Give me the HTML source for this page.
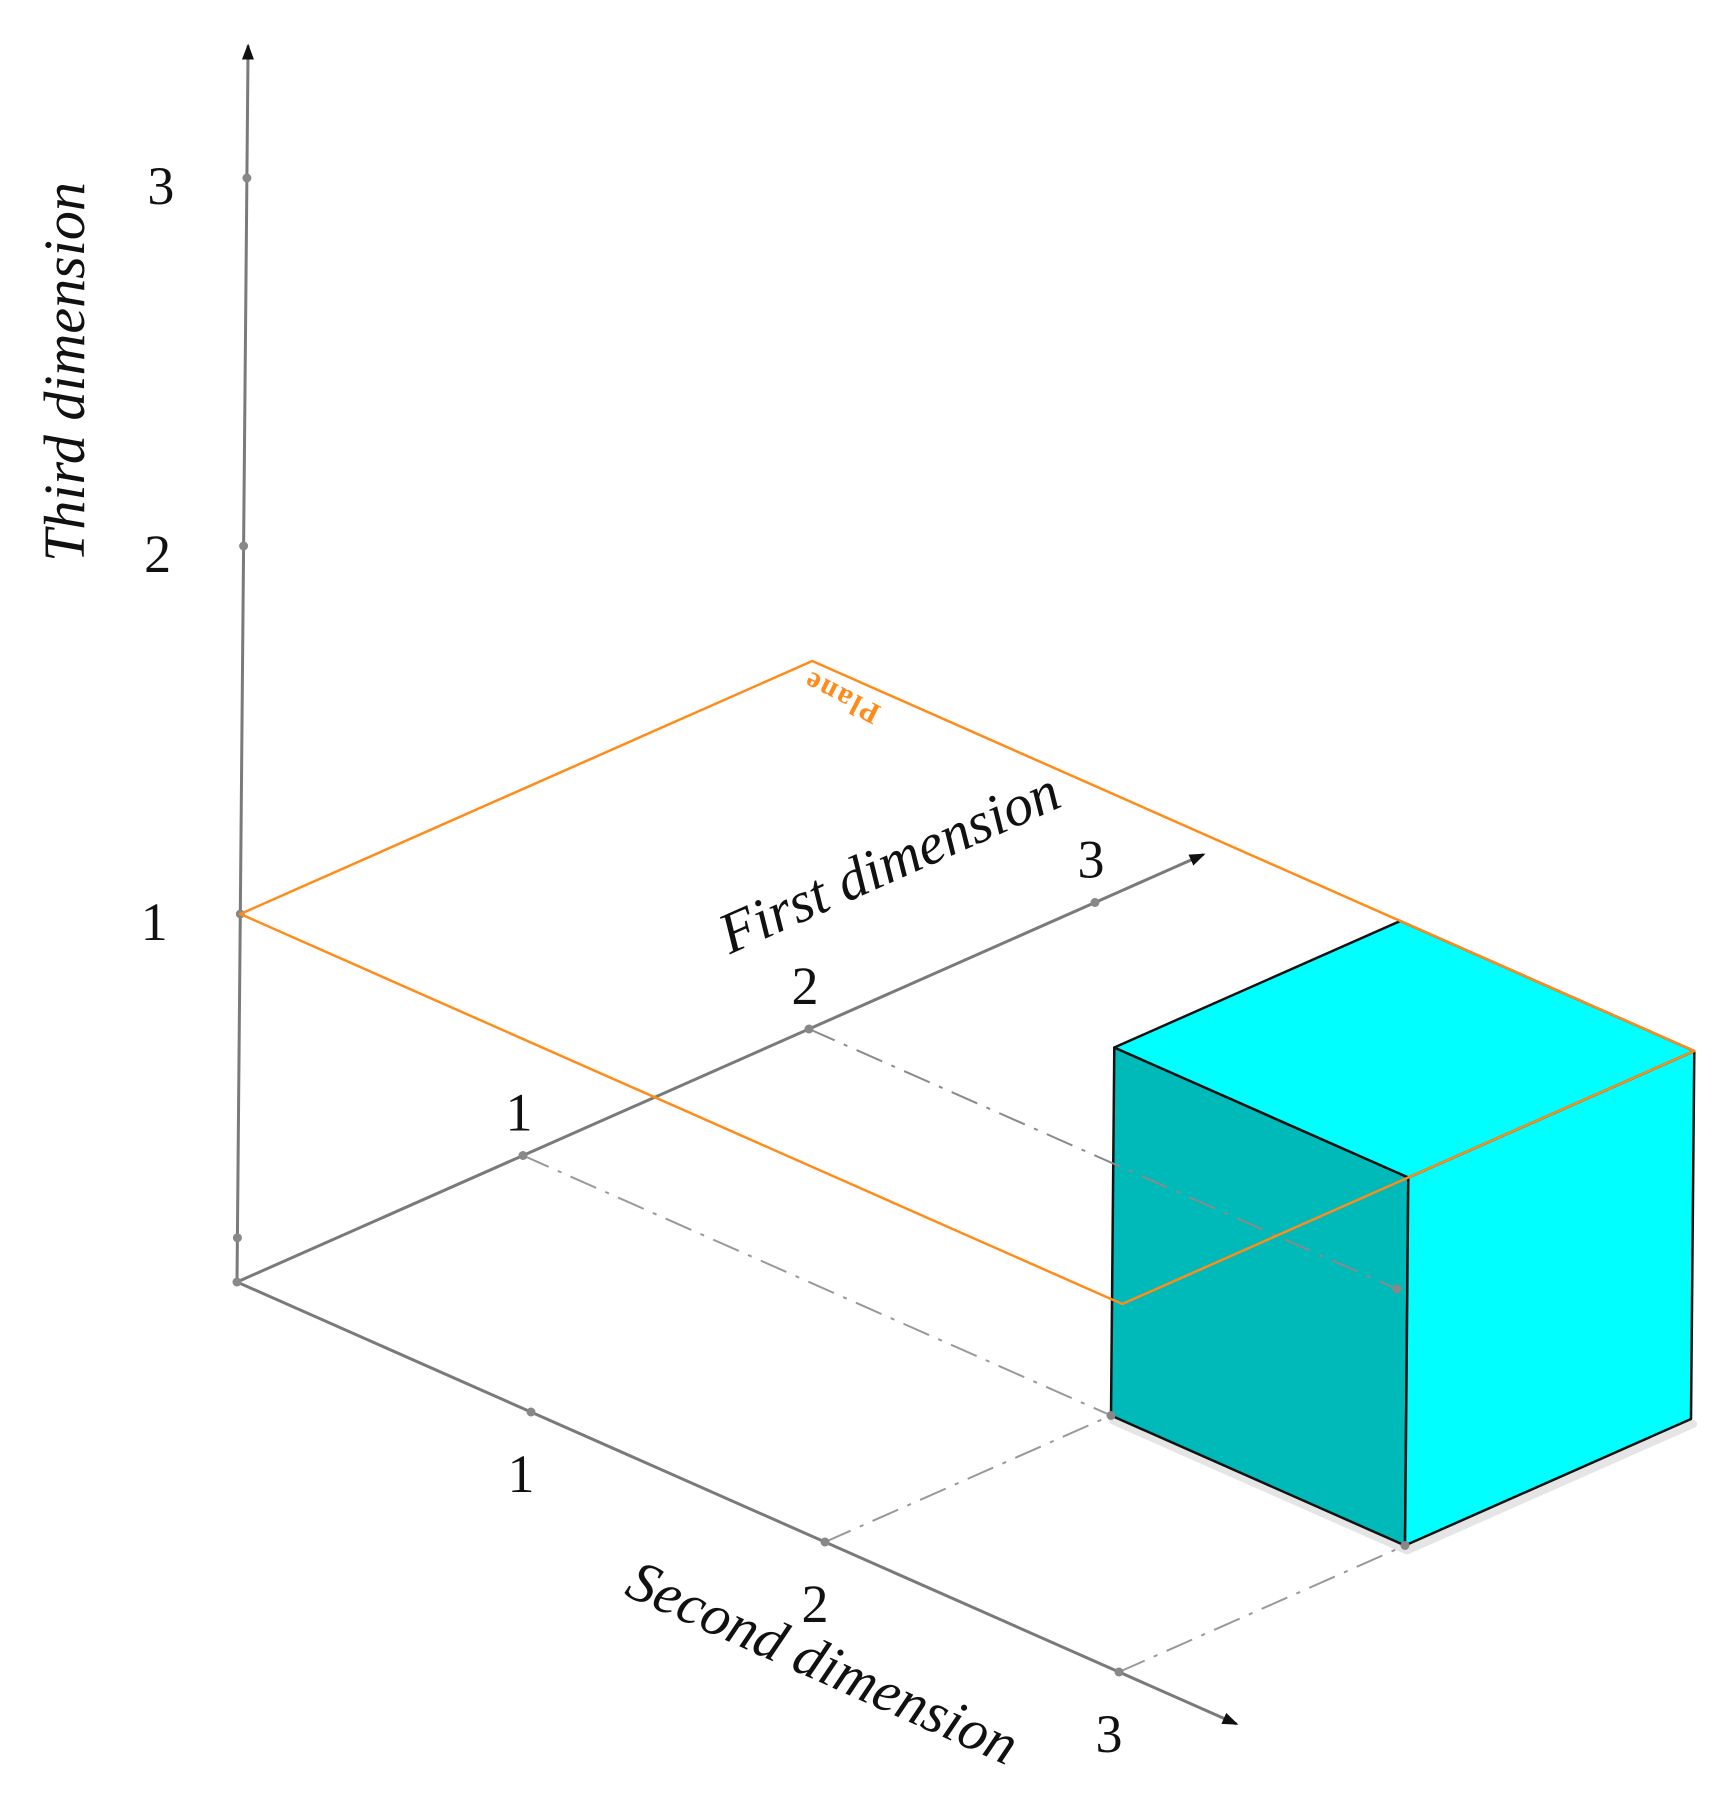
<!DOCTYPE html>
<html><head><meta charset="utf-8"><style>
html,body{margin:0;padding:0;background:#fff;}
svg{display:block;}
text{font-family:"Liberation Serif",serif;}
</style></head><body>
<svg id="chart" width="1735" height="1811" viewBox="0 0 1735 1811" xmlns="http://www.w3.org/2000/svg">
<defs>
<marker id="arr" markerWidth="16" markerHeight="12" refX="14" refY="6" orient="auto" markerUnits="userSpaceOnUse">
<path d="M0,0 L16,6 L0,12 z" fill="#111"/>
</marker>
</defs>
<g id="g"></g>
</svg>
<script>
// axis tick values
const ticks = [1, 2, 3];
const tickLabels = ["1", "2", "3"];
// plane level (third dimension) and extents
const planeLevel = [1];
const planeFirst = [0, 2];
const planeSecond = [0, 3];
// cube extents [min,max] in first, second, third dims
const cubeFirst = [1, 2];
const cubeSecond = [2, 3];
const cubeThird = [0, 1];

const O = {x:237, y:1282};
const E1 = {x:286, y:-126.5};
const E2 = {x:294, y:130};
const E3 = {x:3.3, y:-368};
function P(a,b,c){return {x:O.x+a*E1.x+b*E2.x+c*E3.x, y:O.y+a*E1.y+b*E2.y+c*E3.y};}
const NS="http://www.w3.org/2000/svg";
const g=document.getElementById('g');
function el(t,attrs){const e=document.createElementNS(NS,t);for(const k in attrs)e.setAttribute(k,attrs[k]);g.appendChild(e);return e;}
function line(p,q,st,name){const e=el('line',{x1:p.x,y1:p.y,x2:q.x,y2:q.y,style:st});


return e;}
function poly(pts,fill,stroke,sw,name){const e=el('polygon',{points:pts.map(p=>p.x+','+p.y).join(' '),fill:fill,stroke:stroke,'stroke-width':sw,'stroke-linejoin':'round'});


return e;}
function dot(p,name){const e=el('circle',{cx:p.x,cy:p.y,r:4.5,fill:'#888'});

}
function txt(p,s,size,extra,name){const e=el('text',Object.assign({x:p.x,y:p.y,'font-size':size,'text-anchor':'middle',fill:'#111'},extra||{}));e.textContent=s;


return e;}

const axisSt='stroke:#7a7a7a;stroke-width:3';
const dashSt='stroke:#999;stroke-width:2;stroke-dasharray:28 10 4 10;fill:none';

// dash-dot projection lines
line(P(1,0,0),P(cubeFirst[0],cubeSecond[0],0),dashSt,'projection-line-first-1');
line(P(0,2,0),P(cubeFirst[0],cubeSecond[0],0),dashSt,'projection-line-second-2');
line(P(0,3,0),P(cubeFirst[0],cubeSecond[1],0),dashSt,'projection-line-second-3');

// axes
let a;
a=line(O,P(0,0,3.36),axisSt,'third-dimension-axis');a.setAttribute('marker-end','url(#arr)');
a=line(O,P(3.38,0,0),axisSt,'first-dimension-axis');a.setAttribute('marker-end','url(#arr)');
a=line(O,P(0,3.4,0),axisSt,'second-dimension-axis');a.setAttribute('marker-end','url(#arr)');
dot(O,'origin-point');
dot(P(0,0,0.12),'third-axis-minor-point');

ticks.forEach((t,i)=>{
  const p1=P(t,0,0);dot(p1,'first-axis-tick-'+t);
  txt({x:p1.x-4,y:p1.y-25},tickLabels[i],54,{},'first-axis-label-'+t);
  const p2=P(0,t,0);dot(p2,'second-axis-tick-'+t);
  txt({x:p2.x-10,y:p2.y+80},tickLabels[i],54,{},'second-axis-label-'+t);
  const p3=P(0,0,t);dot(p3,'third-axis-tick-'+t);
  txt({x:p3.x-86,y:p3.y+26},tickLabels[i],54,{},'third-axis-label-'+t);
});

// cube
const [f0,f1]=cubeFirst,[s0,s1]=cubeSecond,[t0,t1]=cubeThird;
const shadow=poly([P(f0,s0,t0),P(f0,s1,t0),P(f1,s1,t0)],'none','rgba(0,0,0,0.10)',8,'cube-shadow');
shadow.setAttribute('transform','translate(2,5)');
poly([P(f0,s0,t1),P(f0,s1,t1),P(f0,s1,t0),P(f0,s0,t0)],'#00b9b9','#111',2.5,'cube-left-face');
poly([P(f0,s1,t1),P(f1,s1,t1),P(f1,s1,t0),P(f0,s1,t0)],'#00ffff','#111',2.5,'cube-right-face');
poly([P(f0,s0,t1),P(f1,s0,t1),P(f1,s1,t1),P(f0,s1,t1)],'#00ffff','#111',2.5,'cube-top-face');
// first tick 2 projection, visible through the cube's dark face
line(P(2,0,0),P(cubeFirst[1],cubeSecond[0],0),'stroke:#8a8a8a;stroke-width:2;stroke-dasharray:28 10 4 10;fill:none','projection-line-first-2');
dot(P(cubeFirst[1],cubeSecond[0],0),'cube-hidden-point');
dot(P(f0,s0,0),'cube-bottom-left-point');
dot(P(f0,s1,0),'cube-bottom-front-point');

// plane
const z=planeLevel[0];
poly([P(planeFirst[0],planeSecond[0],z),P(planeFirst[1],planeSecond[0],z),P(planeFirst[1],planeSecond[1],z),P(planeFirst[0],planeSecond[1],z)],'none','#ff8c1a',2.5,'plane');

txt({x:843,y:700},'Plane',30,{'font-family':'Liberation Mono, monospace','font-weight':'bold',fill:'#ff8c1a','letter-spacing':'2',transform:'rotate(207 843 694)'},'plane-label');

// titles
txt({x:84,y:372},'Third dimension',58,{'font-style':'italic',transform:'rotate(-90 84 372)'},'third-dimension-title');
txt({x:897,y:880},'First dimension',58,{'font-style':'italic',transform:'rotate(-24 897 880)'},'first-dimension-title');
txt({x:815,y:1680},'Second dimension',58,{'font-style':'italic',transform:'rotate(24 815 1680)'},'second-dimension-title');
</script>
</body></html>
